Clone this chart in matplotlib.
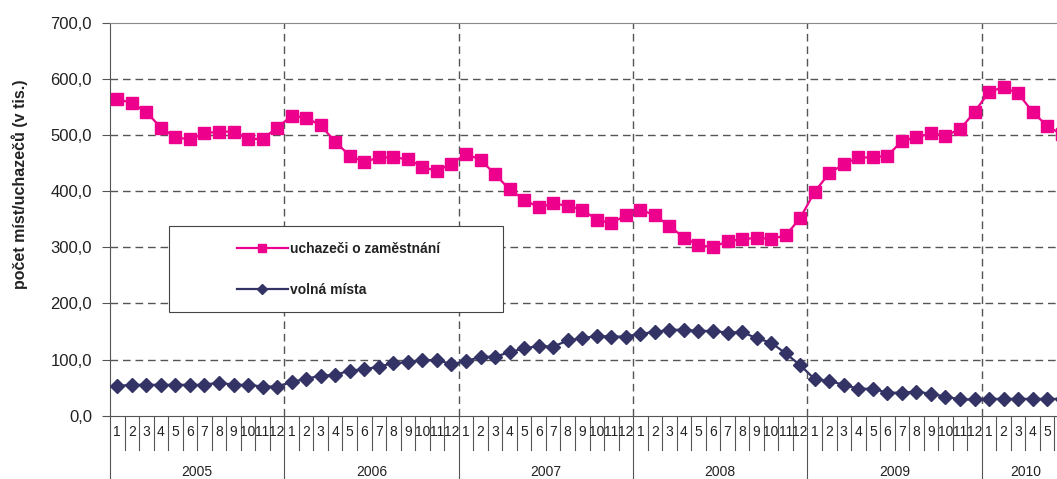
import matplotlib
matplotlib.use("Agg")
import matplotlib.pyplot as plt
from matplotlib.lines import Line2D
from matplotlib.patches import Rectangle

plt.rcParams["font.family"] = ["Liberation Sans", "DejaVu Sans"]

# monthly data, Jan 2005 - Jun 2010 (thousands)
years = ["2005", "2006", "2007", "2008", "2009", "2010"]
months_in_year = [12, 12, 12, 12, 12, 6]

uchazeci = [
    564, 557, 541, 513, 496, 492, 503, 506, 506, 493, 493, 513,   # 2005
    534, 531, 517, 488, 463, 452, 460, 460, 457, 443, 436, 449,   # 2006
    466, 456, 430, 403, 385, 371, 378, 374, 367, 349, 343, 357,   # 2007
    367, 357, 338, 317, 304, 300, 311, 314, 317, 315, 321, 352,   # 2008
    399, 432, 448, 460, 460, 463, 489, 496, 503, 499, 510, 541,   # 2009
    577, 585, 574, 541, 516, 501,                                 # 2010
]
volna_mista = [
    53, 55, 55, 55, 55, 55, 55, 59, 55, 55, 52, 52,
    60, 66, 71, 73, 80, 83, 87, 94, 95, 99, 99, 92,
    97, 105, 105, 113, 120, 124, 123, 134, 138, 142, 141, 141,
    146, 149, 153, 153, 151, 151, 148, 149, 138, 130, 111, 90,
    65, 62, 55, 48, 48, 41, 41, 43, 39, 34, 29, 29,
    30, 30, 30, 30, 30, 30,
]

PINK = "#EC008C"
NAVY = "#333366"
GRID = "#555555"

fig = plt.figure(figsize=(10.57, 4.79), dpi=100)
W, H = 1057, 479
ax = fig.add_axes([110 / W, (H - 415.7) / H, 959 / W, 393 / H])

n = len(uchazeci)
x = list(range(1, n + 1))
ax.set_xlim(0.5, sum(months_in_year) + 0.5)
ax.set_ylim(0, 700)

# grid
for v in range(100, 700, 100):
    ax.axhline(v, color=GRID, lw=1.0, dashes=(5.5, 3.5), zorder=1)
bounds = [0.5]
for m in months_in_year:
    bounds.append(bounds[-1] + m)
for b in bounds[1:-1]:
    ax.axvline(b, color=GRID, lw=1.0, dashes=(5.5, 3.5), zorder=1)

ax.plot(x, uchazeci, color=PINK, lw=1.6, marker="s", ms=9, mec=PINK,
        zorder=3, clip_on=False, label="uchazeči o zaměstnání")
ax.plot(x, volna_mista, color=NAVY, lw=1.6, marker="D", ms=6.8, mec=NAVY,
        zorder=3, clip_on=False, label="volná místa")

# y axis
ax.set_yticks(range(0, 701, 100))
ax.set_yticklabels([f"{v:.1f}".replace(".", ",") for v in range(0, 701, 100)])
ax.tick_params(axis="y", length=6, width=0.8, color=GRID, pad=7,
               labelsize=12, labelcolor="#222222")
ax.set_xticks([])
ax.spines["right"].set_visible(False)
ax.spines["top"].set_color("#8a8a8a")
ax.spines["left"].set_color("#555555")
ax.spines["bottom"].set_color("#555555")

# category axis: months and years
tr = ax.get_xaxis_transform()
px = 1 / 393
pos = 1
for yi, m in enumerate(months_in_year):
    for k in range(1, m + 1):
        # skip labels that fall past the right edge of the figure
        xd = ax.transData.transform((pos, 0))[0]
        if xd < W - 3:
            ax.text(pos, -16.5 * px, str(k), transform=tr, ha="center",
                    va="center", fontsize=10, color="#222222", clip_on=False)
        if k > 1:
            ax.plot([pos - 0.5, pos - 0.5], [0, -34.5 * px], transform=tr,
                    color="#555555", lw=0.8, clip_on=False)
        pos += 1
for yi, name in enumerate(years):
    ax.text((bounds[yi] + bounds[yi + 1]) / 2, -56 * px, name, transform=tr,
            ha="center", va="center", fontsize=10, color="#222222", clip_on=False)
for b in bounds:
    ax.plot([b, b], [0, -70 * px], transform=tr, color="#555555", lw=0.8,
            clip_on=False)

fig.text(20 / W, (H - 184) / H, "počet míst/uchazečů (v tis.)", rotation=90,
         ha="center", va="center", fontsize=11.5, fontweight="bold",
         color="#222222")

# legend
fig.patches.append(Rectangle((169 / W, (H - 312) / H), 334 / W, 86 / H,
                             transform=fig.transFigure, fc="white",
                             ec="#444444", lw=0.8, zorder=4))
handles = [
    Line2D([], [], color=PINK, lw=1.6, marker="s", ms=6, mec=PINK),
    Line2D([], [], color=NAVY, lw=1.6, marker="D", ms=5, mec=NAVY),
]
leg = fig.legend(handles, ["uchazeči o zaměstnání", "volná místa"],
                 loc="upper left", bbox_to_anchor=(237 / W, (H - 242) / H),
                 frameon=False, borderpad=0, borderaxespad=0,
                 handlelength=3.65, handletextpad=0.15, labelspacing=1.95,
                 prop={"size": 10, "weight": "bold"})
leg.set_zorder(5)
for t in leg.get_texts():
    t.set_color("#222222")

fig.savefig("out.png", dpi=100)
